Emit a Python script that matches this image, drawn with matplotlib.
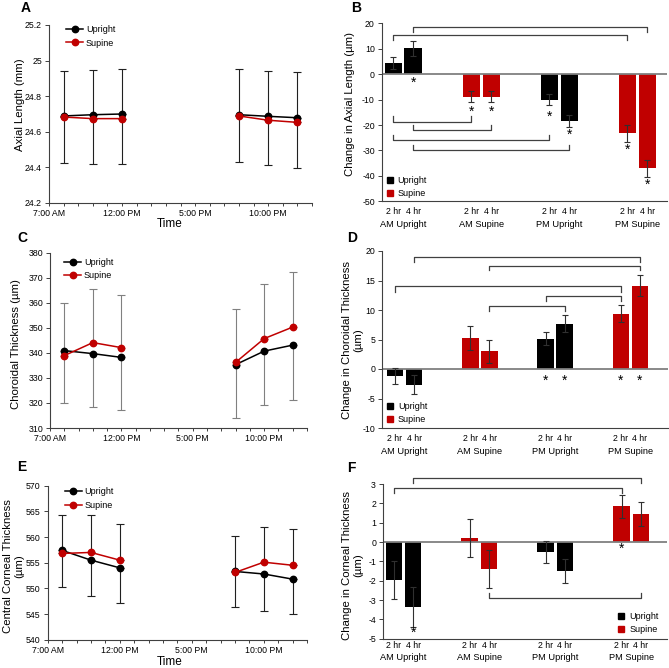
import matplotlib
matplotlib.use('Agg')
import matplotlib.pyplot as plt
import numpy as np
from matplotlib.lines import Line2D
from matplotlib.ticker import FuncFormatter, MultipleLocator

plt.rcParams['font.family'] = ['Liberation Sans', 'DejaVu Sans']

# ---------------- data: time course ----------------
hours = [8, 10, 12, 20, 22, 24]
time_ticks = [7, 12, 17, 22]
time_labels = ['7:00 AM', '12:00 PM', '5:00 PM', '10:00 PM']

al_upright = [24.689, 24.696, 24.700, 24.696, 24.687, 24.679]
al_supine = [24.683, 24.674, 24.674, 24.689, 24.665, 24.653]
al_upright_sd = [0.263, 0.276, 0.280, 0.264, 0.273, 0.280]
al_supine_sd = [0.260, 0.276, 0.280, 0.263, 0.278, 0.282]

ct_upright = [340.9, 339.7, 338.2, 335.3, 340.7, 343.1]
ct_supine = [338.9, 344.1, 342.1, 336.2, 345.7, 350.3]
ct_upright_sd = [20.9, 21.3, 21.1, 21.3, 21.7, 21.9]
ct_supine_sd = [21.0, 21.3, 20.9, 21.2, 21.7, 21.8]

cct_upright = [557.4, 555.5, 554.0, 553.3, 552.8, 551.8]
cct_supine = [556.8, 557.0, 555.5, 553.1, 555.1, 554.5]
cct_upright_sd = [7.2, 7.0, 6.9, 7.0, 7.2, 6.8]
cct_supine_sd = [7.4, 7.2, 7.0, 7.1, 6.8, 7.1]

# ---------------- data: changes ----------------
groups = ['AM Upright', 'AM Supine', 'PM Upright', 'PM Supine']
durations = ['2 hr', '4 hr']
series_names = ['Upright', 'Supine']

al_change = [[4.3, 10.1], [-8.8, -8.8], [-10.1, -18.3], [-23.3, -37.0]]
al_change_se = [[2.3, 2.8], [2.2, 2.1], [2.2, 2.3], [3.5, 3.3]]
al_stars = [(0, 1, -3.4), (1, 0, -14.8), (1, 1, -14.8), (2, 0, -16.8), (2, 1, -24.0), (3, 0, -29.9), (3, 1, -43.4)]
al_brackets = [(0, 1, 3, 1, 18.6, 16.5), (0, 0, 3, 0, 15.5, 13.4),
               (0, 0, 1, 0, -18.8, -16.5), (0, 1, 1, 1, -22.0, -19.9),
               (0, 0, 2, 0, -26.0, -23.9), (0, 1, 2, 1, -29.9, -27.8)]

ct_change = [[-1.2, -2.7], [5.2, 3.0], [5.1, 7.7], [9.4, 14.1]]
ct_change_se = [[1.4, 1.6], [2.05, 2.0], [1.1, 1.4], [1.4, 1.8]]
ct_stars = [(2, 0, -2.0), (2, 1, -2.0), (3, 0, -2.0), (3, 1, -2.0)]
ct_brackets = [(0, 1, 3, 1, 19.0, 18.2), (1, 1, 3, 1, 17.5, 16.7),
               (0, 0, 3, 0, 14.0, 13.1), (2, 0, 3, 0, 12.4, 11.6),
               (1, 1, 2, 1, 10.7, 9.9)]

cct_change = [[-1.97, -3.38], [0.2, -1.4], [-0.53, -1.48], [1.84, 1.45]]
cct_change_se = [[0.98, 1.03], [1.0, 1.0], [0.56, 0.62], [0.58, 0.64]]
cct_stars = [(0, 1, -4.7), (3, 0, -0.36)]
cct_brackets = [(0, 1, 3, 1, 3.3, 3.07), (0, 0, 3, 0, 2.79, 2.53),
                (1, 1, 3, 1, -2.9, -2.66)]

RED = '#C00000'
BLACK = '#000000'
group_colors = [BLACK, RED, BLACK, RED]
series_colors = [BLACK, RED]

W, H = 669, 668
fig = plt.figure(figsize=(W / 100, H / 100), dpi=100)


def add_axes(l, t, r, b):
    return fig.add_axes([l / W, 1 - b / H, (r - l) / W, (b - t) / H])


def ftext(x, y, s, **kw):
    fig.text(x / W, 1 - y / H, s, **kw)


fmt_g = FuncFormatter(lambda v, p: ('%g' % round(v, 6)))
TICK_FS = 6.3
SPINE_C = '#404040'


def style_axes(ax):
    for s in ['top', 'right']:
        ax.spines[s].set_visible(False)
    for s in ['left', 'bottom']:
        ax.spines[s].set_color(SPINE_C)
        ax.spines[s].set_linewidth(0.8)
    ax.tick_params(axis='y', direction='out', length=3, width=0.7, color=SPINE_C,
                   labelsize=TICK_FS, pad=2)


def line_panel(ax, up, sup, up_sd, sup_sd, ylim, ystep, ecolor, leg_xy):
    h = np.array(hours, dtype=float)
    up = np.array(up); sup = np.array(sup)
    z = np.zeros(len(h))
    ax.errorbar(h, up, yerr=[np.array(up_sd), z], fmt='none', ecolor=ecolor,
                elinewidth=0.8, capsize=3, capthick=0.8, zorder=2)
    ax.errorbar(h, sup, yerr=[z, np.array(sup_sd)], fmt='none', ecolor=ecolor,
                elinewidth=0.8, capsize=3, capthick=0.8, zorder=2)
    for vals, col, zo in [(up, BLACK, 3), (sup, RED, 4)]:
        for s in [slice(0, 3), slice(3, 6)]:
            ax.plot(h[s], vals[s], '-o', color=col, ms=4.6, lw=1.1, zorder=zo)
    ax.set_xlim(7, 25)
    ax.set_ylim(*ylim)
    ax.yaxis.set_major_locator(MultipleLocator(ystep))
    ax.yaxis.set_major_formatter(fmt_g)
    hrs = list(range(7, 26))
    lab = dict(zip(time_ticks, time_labels))
    ax.set_xticks(hrs)
    ax.set_xticklabels([lab.get(x, '') for x in hrs])
    style_axes(ax)
    ax.tick_params(axis='x', direction='out', length=2.5, width=0.7, color=SPINE_C,
                   labelsize=TICK_FS, pad=2)
    handles = [Line2D([], [], color=c, marker='o', ms=4.6, lw=1.1) for c in series_colors]
    ax.legend(handles, series_names, loc='upper left', bbox_to_anchor=leg_xy,
              frameon=False, fontsize=6.5, handlelength=1.9, handletextpad=0.3,
              labelspacing=0.5, borderpad=0, borderaxespad=0)


OFF = 0.127
BW = 0.22


def bar_x(g, d):
    return g + (d - 0.5) * 2 * OFF


def bar_panel(ax, vals, errs, ylim, ystep, stars, brackets, xlim, leg_loc, leg_xy,
              pad1, pad2):
    for g in range(4):
        for d in range(2):
            x = bar_x(g, d)
            ax.bar(x, vals[g][d], width=BW, color=group_colors[g], zorder=2)
            ax.errorbar(x, vals[g][d], yerr=errs[g][d], fmt='none', ecolor='#303030',
                        elinewidth=0.8, capsize=2.2, capthick=0.8, zorder=3)
    ax.axhline(0, color='#808080', lw=1.3, zorder=2.5)
    for g, d, y in stars:
        ax.text(bar_x(g, d), y, '*', ha='center', va='center', fontsize=10, zorder=4)
    for g1, d1, g2, d2, y, ye in brackets:
        x1, x2 = bar_x(g1, d1), bar_x(g2, d2)
        ax.plot([x1, x1, x2, x2], [ye, y, y, ye], color='#404040', lw=0.9,
                clip_on=False, zorder=3)
    ax.set_xlim(*xlim)
    ax.set_ylim(*ylim)
    ax.yaxis.set_major_locator(MultipleLocator(ystep))
    ax.yaxis.set_major_formatter(fmt_g)
    style_axes(ax)
    xs = [bar_x(g, d) for g in range(4) for d in range(2)]
    ax.set_xticks(xs)
    ax.set_xticklabels(durations * 4)
    ax.set_xticks(range(4), minor=True)
    ax.set_xticklabels(groups, minor=True)
    ax.tick_params(axis='x', which='major', length=0, labelsize=TICK_FS, pad=pad1)
    ax.tick_params(axis='x', which='minor', length=0, labelsize=6.7, pad=pad2)
    handles = [Line2D([], [], color=c, marker='s', ms=4.3, ls='none') for c in series_colors]
    ax.legend(handles, series_names, loc=leg_loc, bbox_to_anchor=leg_xy,
              frameon=False, fontsize=6.5, handlelength=0.8, handletextpad=0.5,
              labelspacing=0.45, borderpad=0, borderaxespad=0)


# Panel A
axA = add_axes(49, 25, 312, 203)
line_panel(axA, al_upright, al_supine, al_upright_sd, al_supine_sd, (24.2, 25.2), 0.2,
           '#202020', (0.065, 1.0))
# Panel C
axC = add_axes(50, 252.7, 307, 428)
line_panel(axC, ct_upright, ct_supine, ct_upright_sd, ct_supine_sd, (310, 380), 10,
           '#808080', (0.055, 0.97))
# Panel E
axE = add_axes(47.7, 485.7, 307, 639.7)
line_panel(axE, cct_upright, cct_supine, cct_upright_sd, cct_supine_sd, (540, 570), 5,
           '#202020', (0.065, 0.99))

# Panel B
axB = add_axes(381.7, 23.3, 667, 201.3)
bar_panel(axB, al_change, al_change_se, (-50, 20), 10, al_stars, al_brackets,
          (-0.275, 3.38), 'lower left', (0.015, 0.02), 4.0, 13.5)
# Panel D
axD = add_axes(382, 251, 668, 428)
bar_panel(axD, ct_change, ct_change_se, (-10, 20), 5, ct_stars, ct_brackets,
          (-0.3, 3.5), 'lower left', (0.015, 0.02), 4.0, 13.5)
# Panel F
axF = add_axes(383, 484, 667, 638.7)
bar_panel(axF, cct_change, cct_change_se, (-5, 3), 1, cct_stars, cct_brackets,
          (-0.27, 3.47), 'lower right', (0.97, 0.03), 1.5, 10.5)

# axis titles
YL_FS = 8.2
ftext(20.5, 105, 'Axial Length (mm)', rotation=90, ha='center', va='center', fontsize=YL_FS)
ftext(350, 104, 'Change in Axial Length (µm)', rotation=90, ha='center', va='center', fontsize=YL_FS)
ftext(16, 344, 'Choroidal Thickness (µm)', rotation=90, ha='center', va='center', fontsize=YL_FS)
ftext(352.5, 340, 'Change in Choroidal Thickness\n(µm)', rotation=90, ha='center', va='center',
      fontsize=YL_FS, linespacing=1.1)
ftext(13.5, 566, 'Central Corneal Thickness\n(µm)', rotation=90, ha='center', va='center',
      fontsize=YL_FS, linespacing=1.1)
ftext(352.5, 565, 'Change in Corneal Thickness\n(µm)', rotation=90, ha='center', va='center',
      fontsize=YL_FS, linespacing=1.1)
ftext(170, 224, 'Time', ha='center', va='center', fontsize=8.5)
ftext(170, 662, 'Time', ha='center', va='center', fontsize=8.5)

# panel letters
for lab, x, y in [('A', 21, 11.7), ('B', 351.5, 11.7), ('C', 17, 242.5),
                  ('D', 347, 241.7), ('E', 17, 471.3), ('F', 347, 472)]:
    ftext(x, y, lab, ha='left', va='baseline', fontsize=10, fontweight='bold')

fig.savefig('out.png', dpi=100)
